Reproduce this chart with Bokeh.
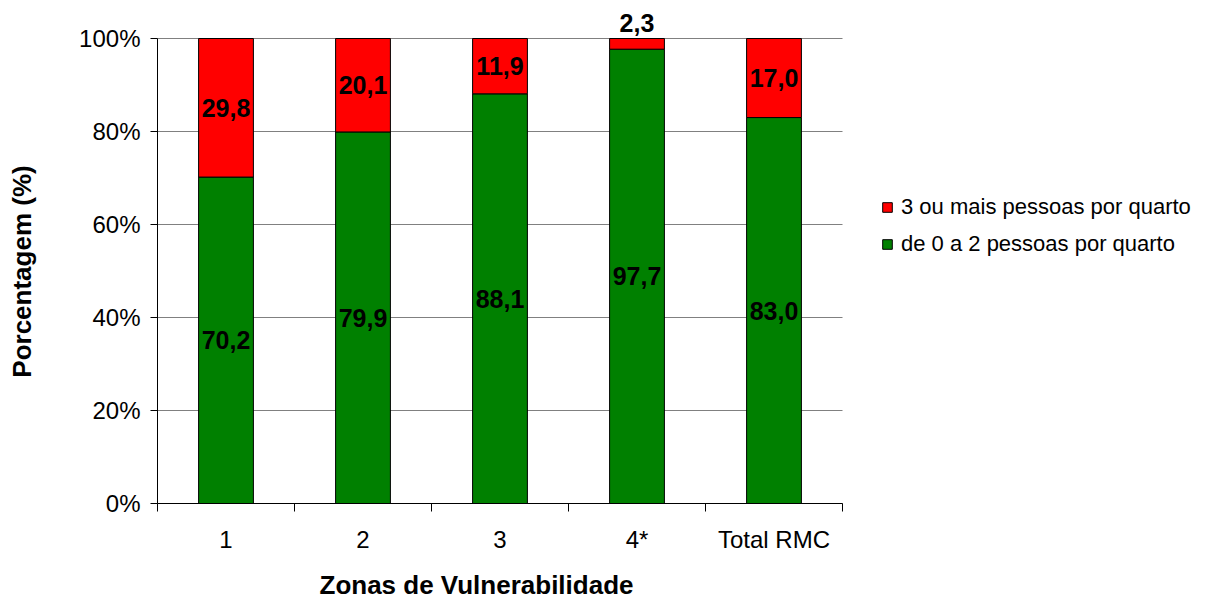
from math import pi
from bokeh.plotting import figure
from bokeh.models import (Range1d, FixedTicker, LinearAxis, Legend, LegendItem, LabelSet, Label,
                          ColumnDataSource, PrintfTickFormatter)
from bokeh.core.properties import value
from bokeh.embed import file_html
from bokeh.resources import INLINE

# ---- data ----
zones = ["1", "2", "3", "4*", "Total RMC"]
low_share = [70.2, 79.9, 88.1, 97.7, 83.0]    # de 0 a 2 pessoas por quarto
high_share = [29.8, 20.1, 11.9, 2.3, 17.0]    # 3 ou mais pessoas por quarto
y_ticks = [0, 20, 40, 60, 80, 100]
series_names = ["3 ou mais pessoas por quarto", "de 0 a 2 pessoas por quarto"]
x_title = "Zonas de Vulnerabilidade"
y_title = "Porcentagem (%)"

GREEN = "#008000"
RED = "#FF0000"
FONT = "Liberation Sans"

# ---- layout (pixels) ----
W, H = 1210, 599
AX_LEFT, AX_RIGHT = 157, 842      # x axis extent
AX_TOP, AX_BOTTOM = 38, 503       # y positions of 100% and 0%

n = len(zones)
centers = [i + 0.5 for i in range(n)]
bounds = [float(i) for i in range(n + 1)]
stack_top = [a + b for a, b in zip(low_share, high_share)]

px_per_x = (AX_RIGHT - AX_LEFT) / n
px_per_y = (AX_BOTTOM - AX_TOP) / 100.0

p = figure(width=W, height=H, output_backend="svg", toolbar_location=None,
           x_range=Range1d(-AX_LEFT / px_per_x, (W - AX_LEFT) / px_per_x),
           y_range=Range1d(-(H - AX_BOTTOM) / px_per_y, AX_BOTTOM / px_per_y),
           x_axis_type=None, y_axis_type=None,
           min_border_left=0, min_border_right=0,
           min_border_top=0, min_border_bottom=0)
p.outline_line_color = None
p.background_fill_color = "white"
p.border_fill_color = "white"

# gridlines limited to the category extent
p.segment(x0=[0] * len(y_ticks), x1=[n] * len(y_ticks), y0=y_ticks, y1=y_ticks,
          line_color="#808080", line_width=1, level="underlay")

# y axis
yaxis = LinearAxis(ticker=FixedTicker(ticks=y_ticks),
                   formatter=PrintfTickFormatter(format="%d%%"),
                   bounds=(0, 100), fixed_location=0)
yaxis.major_tick_in = 0
yaxis.major_tick_out = 7
yaxis.minor_tick_out = 0
yaxis.minor_tick_in = 0
yaxis.major_label_standoff = 10
yaxis.major_label_text_font = FONT
yaxis.major_label_text_font_size = "24px"
yaxis.major_label_text_color = "black"
yaxis.axis_line_color = "black"
yaxis.major_tick_line_color = "black"
p.add_layout(yaxis, "left")

# x axis: labels at centers, tick marks at category boundaries
overrides = {c: z for c, z in zip(centers, zones)}
xaxis = LinearAxis(ticker=FixedTicker(ticks=centers, minor_ticks=bounds),
                   bounds=(0, n), fixed_location=0)
xaxis.major_label_overrides = overrides
xaxis.major_tick_in = 0
xaxis.major_tick_out = 0
xaxis.minor_tick_in = 0
xaxis.minor_tick_out = 8
xaxis.major_label_standoff = 14
xaxis.major_label_text_font = FONT
xaxis.major_label_text_font_size = "24px"
xaxis.major_label_text_color = "black"
xaxis.axis_line_color = "black"
xaxis.minor_tick_line_color = "black"
p.add_layout(xaxis, "below")

# bars
src = ColumnDataSource(dict(x=centers, low=low_share, high=high_share, top=stack_top))
g = p.vbar(x="x", bottom=0, top="low", width=0.4, source=src,
           fill_color=GREEN, line_color="black", line_width=1)
r = p.vbar(x="x", bottom="low", top="top", width=0.4, source=src,
           fill_color=RED, line_color="black", line_width=1)

# value labels
def fmt(v):
    return f"{v:.1f}".replace(".", ",")

in_x, in_y, in_t = [], [], []
out_x, out_y, out_t = [], [], []
for c, a, b in zip(centers, low_share, high_share):
    in_x.append(c); in_y.append(a / 2); in_t.append(fmt(a))
    if b >= 5:
        in_x.append(c); in_y.append(a + b / 2); in_t.append(fmt(b))
    else:
        out_x.append(c); out_y.append(a + b); out_t.append(fmt(b))

common = dict(text_align="center", text_font=value(FONT), text_font_size=value("25px"),
              text_font_style=value("bold"), text_color=value("black"))
lab_in = LabelSet(x="x", y="y", text="t",
                  source=ColumnDataSource(dict(x=in_x, y=in_y, t=in_t)),
                  text_baseline="middle", **common)
lab_out = LabelSet(x="x", y="y", text="t",
                   source=ColumnDataSource(dict(x=out_x, y=out_y, t=out_t)),
                   text_baseline="alphabetic", y_offset=7, **common)
p.add_layout(lab_in)
p.add_layout(lab_out)

# legend (right of the bars)
legend = Legend(items=[LegendItem(label=series_names[0], renderers=[r]),
                       LegendItem(label=series_names[1], renderers=[g])],
                location=(881, 342), orientation="vertical")
legend.padding = 0
legend.margin = 0
legend.border_line_color = None
legend.background_fill_alpha = 0
legend.glyph_width = 12
legend.glyph_height = 12
legend.label_height = 23
legend.spacing = 11
legend.label_standoff = 8
legend.label_text_font = FONT
legend.label_text_font_size = "22px"
legend.label_text_color = "black"
p.add_layout(legend)

# axis titles (screen offsets from the bottom-left corner)
p.add_layout(Label(x=476, y=H - 584, x_units="screen", y_units="screen",
                   text=x_title, text_align="center", text_baseline="alphabetic",
                   text_font=FONT, text_font_size="26px", text_font_style="bold",
                   text_color="black"))
p.add_layout(Label(x=21, y=H - 271, x_units="screen", y_units="screen",
                   text=y_title, angle=pi / 2, text_align="center", text_baseline="alphabetic",
                   text_font=FONT, text_font_size="26px", text_font_style="bold",
                   text_color="black"))

open("out.html", "w").write(file_html(p, INLINE))
